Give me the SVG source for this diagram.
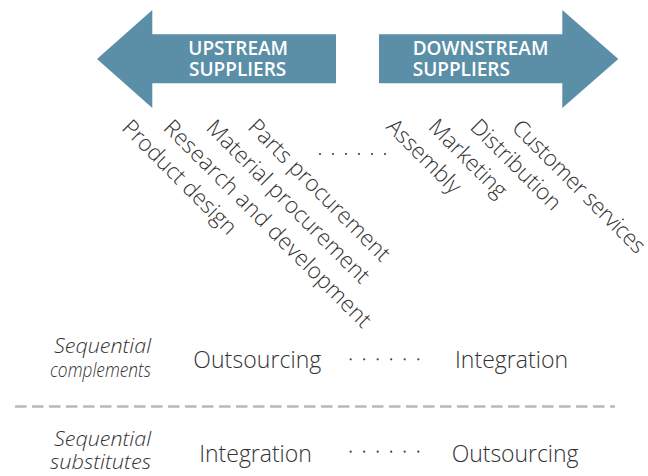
<svg xmlns="http://www.w3.org/2000/svg" width="648" height="476" viewBox="0 0 648 476">
<style>
.arrow{fill:#5b8fa7;}
.alab{font-family:"Open Sans","Liberation Sans",sans-serif;font-weight:600;font-size:19px;fill:#ffffff;}
.lab{font-family:"Open Sans","Liberation Sans",sans-serif;font-weight:300;font-size:22.4px;fill:#333333;}
.blab{font-family:"Open Sans","Liberation Sans",sans-serif;font-weight:300;font-size:23px;fill:#333333;}
.ital{font-family:"Open Sans","Liberation Sans",sans-serif;font-weight:300;font-style:italic;font-size:21px;fill:#333333;text-anchor:end;}
.dot{fill:#444444;}
.dash{stroke:#b9b9bb;stroke-width:2.5;fill:none;stroke-dasharray:11.5 5.5;}
</style>
<rect width="648" height="476" fill="#ffffff"/>
<g id="upstream">
<polygon class="arrow" points="97,59 152.3,10 152.3,34.3 336,34.3 336,83.3 152.3,83.3 152.3,108"/>
<text class="alab" x="188.3" y="55">UPSTREAM</text>
<text class="alab" x="189" y="76">SUPPLIERS</text>
</g>
<g id="downstream">
<polygon class="arrow" points="379,34.3 562.3,34.3 562.3,10 618.3,59 562.3,108 562.3,83.3 379,83.3"/>
<text class="alab" x="412.7" y="55">DOWNSTREAM</text>
<text class="alab" x="412.7" y="76">SUPPLIERS</text>
</g>
<g id="product-design"><text class="lab" transform="translate(120.7,129) rotate(45)">Product design</text></g>
<g id="research-development"><text class="lab" transform="translate(162.3,129) rotate(45)" textLength="283">Research and development</text></g>
<g id="material-procurement"><text class="lab" transform="translate(205,129) rotate(45)">Material procurement</text></g>
<g id="parts-procurement"><text class="lab" transform="translate(246.7,128.3) rotate(45)">Parts procurement</text></g>
<g id="assembly"><text class="lab" transform="translate(385,128) rotate(45)">Assembly</text></g>
<g id="marketing"><text class="lab" transform="translate(427.3,128.3) rotate(45)">Marketing</text></g>
<g id="distribution"><text class="lab" transform="translate(469,128.3) rotate(45)">Distribution</text></g>
<g id="customer-services"><text class="lab" transform="translate(510.7,129) rotate(45)" textLength="178">Customer services</text></g>
<g id="row-complements">
<text class="ital" x="151" y="353" textLength="97" lengthAdjust="spacingAndGlyphs">Sequential</text>
<text class="ital" x="151" y="377" textLength="101" lengthAdjust="spacingAndGlyphs">complements</text>
<text class="blab" x="193.3" y="367.5" textLength="128">Outsourcing</text>
<text class="blab" x="455" y="367.5" textLength="113">Integration</text>
</g>
<g id="row-substitutes">
<text class="ital" x="151" y="446" textLength="97" lengthAdjust="spacingAndGlyphs">Sequential</text>
<text class="ital" x="151" y="469" textLength="101" lengthAdjust="spacingAndGlyphs">substitutes</text>
<text class="blab" x="199.3" y="461.5" textLength="112.5">Integration</text>
<text class="blab" x="451.7" y="461.5" textLength="126.7">Outsourcing</text>
</g>
<g id="connectors">
<g class="dot">
<circle cx="320" cy="154" r="1.1"/><circle cx="333" cy="154" r="1.1"/><circle cx="346" cy="154" r="1.1"/><circle cx="359" cy="154" r="1.1"/><circle cx="372" cy="154" r="1.1"/><circle cx="385" cy="154" r="1.1"/>
<circle cx="350.7" cy="359.3" r="1.1"/><circle cx="364.2" cy="359.3" r="1.1"/><circle cx="377.7" cy="359.3" r="1.1"/><circle cx="391.2" cy="359.3" r="1.1"/><circle cx="404.7" cy="359.3" r="1.1"/><circle cx="418.3" cy="359.3" r="1.1"/>
<circle cx="350.7" cy="451.7" r="1.1"/><circle cx="364.2" cy="451.7" r="1.1"/><circle cx="377.7" cy="451.7" r="1.1"/><circle cx="391.2" cy="451.7" r="1.1"/><circle cx="404.7" cy="451.7" r="1.1"/><circle cx="418.3" cy="451.7" r="1.1"/>
</g>
<line class="dash" x1="15" y1="406.5" x2="615" y2="406.5"/>
</g>
</svg>
